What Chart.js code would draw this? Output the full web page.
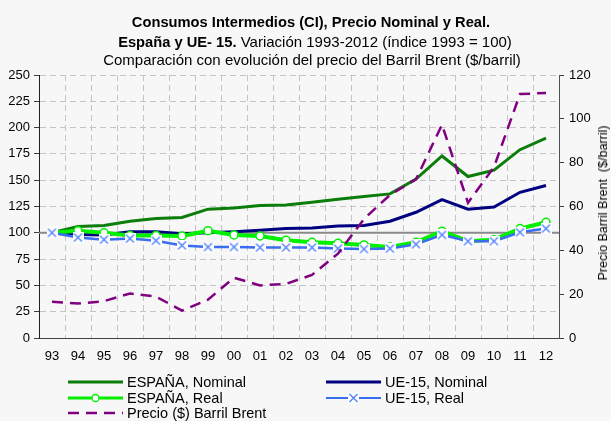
<!DOCTYPE html>
<html>
<head>
<meta charset="utf-8">
<script src="https://cdn.jsdelivr.net/npm/chart.js@4/dist/chart.umd.min.js"></script>
<style>
  html, body { margin: 0; padding: 0; background: #f7f7f7; }
  #wrap { position: relative; width: 611px; height: 421px; font-family: "Liberation Sans", Arial, sans-serif; color: #000; }
  #chart { position: absolute; left: 0; top: 0; }
  .t { position: absolute; white-space: nowrap; transform: translate(-50%, -50%); font-size: 15px; }
  .b { font-weight: bold; font-size: 14.7px; }
  #ytitle { position: absolute; left: 603px; top: 203px; white-space: nowrap; font-size: 12.5px;
            transform: translate(-50%, -50%) rotate(-90deg); }
  .leg { position: absolute; height: 16px; display: flex; align-items: center; font-size: 14.5px; white-space: nowrap; }
  .leg svg { margin-right: 4px; }
</style>
</head>
<body>
<div id="wrap">
  <canvas id="chart" width="611" height="421"></canvas>
  <div class="t b" style="left:311px; top:22px;">Consumos Intermedios (CI), Precio Nominal y Real.</div>
  <div class="t" style="left:315px; top:41px;"><span class="b">España y UE- 15.</span> Variación 1993-2012 (índice 1993 = 100)</div>
  <div class="t" style="left:312px; top:59px;">Comparación con evolución del precio del Barril Brent ($/barril)</div>
  <div id="ytitle">Precio Barril Brent&nbsp; ($/barril)</div>
  <div id="legend"></div>
</div>
<script>
// categories
const years = ['93', '94', '95', '96', '97', '98', '99', '00', '01', '02',
               '03', '04', '05', '06', '07', '08', '09', '10', '11', '12'];

// indices 1993 = 100
const espNominal = [100, 106, 107, 111, 113.5, 114.5, 122.5, 123.5, 126, 126.5,
                    129, 132, 134.5, 137, 151, 173, 153.5, 159.5, 179, 190];
const ueNominal  = [100, 98.5, 98, 101, 101, 99, 100, 101, 102.5, 104,
                    104.5, 106.5, 107, 111, 119.5, 131.5, 122.5, 124.5, 138.5, 145];
const espReal    = [100, 102, 100, 97.5, 97.5, 97, 102, 98, 97, 93,
                    91, 90, 88.5, 86.5, 91, 101.5, 92, 93.5, 104, 110];
const ueReal     = [100, 95.5, 93.5, 94.5, 92.5, 88, 86.5, 86.5, 86, 86,
                    86, 85, 84.5, 85, 89, 98, 92, 92, 100.5, 104];

// Brent, $/barril (right axis)
const brent = [16.5, 15.7, 16.8, 20.3, 18.9, 12.5, 17.5, 27.5, 24, 24.7,
               28.8, 38.5, 54.3, 65.3, 72.4, 97.3, 61.7, 78, 111.3, 111.8];

const leftTicks = [0, 25, 50, 75, 100, 125, 150, 175, 200, 225, 250];
const rightTicks = [0, 20, 40, 60, 80, 100, 120];

// X marker with white box behind it
function crossMarker() {
    const c = document.createElement('canvas');
    c.width = 11; c.height = 11;
    const g = c.getContext('2d');
    g.fillStyle = '#ffffff';
    g.fillRect(0, 0, 11, 11);
    g.strokeStyle = '#4d7dff';
    g.lineWidth = 1.3;
    g.beginPath();
    g.moveTo(1.5, 1.5); g.lineTo(9.5, 9.5);
    g.moveTo(9.5, 1.5); g.lineTo(1.5, 9.5);
    g.stroke();
    return c;
}

// gray base line at index 100
const baseLine = {
    id: 'baseLine',
    beforeDatasetsDraw(chart) {
        const { ctx, chartArea, scales } = chart;
        const y = scales.y.getPixelForValue(100);
        ctx.save();
        ctx.strokeStyle = '#8a8a8a';
        ctx.lineWidth = 2;
        ctx.beginPath();
        ctx.moveTo(chartArea.left, y);
        ctx.lineTo(chartArea.right, y);
        ctx.stroke();
        ctx.restore();
    }
};

const font = { family: '"Liberation Sans", Arial, sans-serif', size: 13 };

new Chart(document.getElementById('chart').getContext('2d'), {
    type: 'line',
    data: {
        labels: years,
        datasets: [
            { label: 'Precio ($) Barril Brent', data: brent, yAxisID: 'y2',
              borderColor: '#800080', borderWidth: 2.5, borderDash: [11, 7], pointRadius: 0 },
            { label: 'UE-15, Real', data: ueReal, borderColor: '#3a6ef0', borderWidth: 2.5,
              pointStyle: crossMarker(), pointRadius: 5 },
            { label: 'ESPAÑA, Real', data: espReal, borderColor: '#00f000', borderWidth: 4,
              pointStyle: 'circle', pointRadius: 4, pointBackgroundColor: '#ffffff',
              pointBorderColor: '#00f000', pointBorderWidth: 1.5 },
            { label: 'UE-15, Nominal', data: ueNominal, borderColor: '#000080', borderWidth: 3, pointRadius: 0 },
            { label: 'ESPAÑA, Nominal', data: espNominal, borderColor: '#0a7d0a', borderWidth: 3, pointRadius: 0 }
        ]
    },
    options: {
        responsive: false,
        animation: false,
        devicePixelRatio: 1,
        layout: { padding: { top: 75, left: 0, right: 0, bottom: 0 } },
        plugins: { legend: { display: false }, tooltip: { enabled: false } },
        scales: {
            x: {
                offset: true,
                grid: { offset: true, color: '#c4c4c4', drawTicks: false },
                border: { color: '#404040', dash: [6, 4] },
                ticks: { color: '#000', font: font, padding: 11, maxRotation: 0, autoSkip: false },
                afterFit(s) { s.height = 83; }
            },
            y: {
                position: 'left',
                min: 0, max: 250,
                afterBuildTicks(s) { s.ticks = leftTicks.map(v => ({ value: v })); },
                grid: { color: '#c4c4c4', tickColor: '#404040', tickLength: 5 },
                border: { color: '#202020', dash: [6, 4] },
                ticks: { color: '#000', font: font, padding: 4 },
                afterFit(s) { s.width = 39; }
            },
            y2: {
                position: 'right',
                min: 0, max: 120,
                afterBuildTicks(s) { s.ticks = rightTicks.map(v => ({ value: v })); },
                grid: { drawOnChartArea: false, color: '#404040', tickLength: 5 },
                border: { color: '#505050' },
                ticks: { color: '#000', font: font, padding: 5 },
                afterFit(s) { s.width = 52; }
            }
        }
    },
    plugins: [baseLine]
});

// legend, two columns like the original
const legendItems = [
    { text: 'ESPAÑA, Nominal', x: 68, y: 382, color: '#0a7d0a', w: 3, marker: null },
    { text: 'UE-15, Nominal', x: 326, y: 382, color: '#000080', w: 3, marker: null },
    { text: 'ESPAÑA, Real', x: 68, y: 398, color: '#00f000', w: 3, marker: 'circle' },
    { text: 'UE-15, Real', x: 326, y: 398, color: '#3a6ef0', w: 2, marker: 'cross' },
    { text: 'Precio ($) Barril Brent', x: 68, y: 413, color: '#800080', w: 2.5, marker: 'dash' }
];
const legend = document.getElementById('legend');
legendItems.forEach((it) => {
    let svg = '<svg width="55" height="16">';
    if (it.marker === 'dash') {
        svg += `<line x1="0" y1="8" x2="55" y2="8" stroke="${it.color}" stroke-width="${it.w}" stroke-dasharray="11 7"/>`;
    } else {
        svg += `<line x1="0" y1="8" x2="55" y2="8" stroke="${it.color}" stroke-width="${it.w}"/>`;
    }
    if (it.marker === 'circle') {
        svg += `<circle cx="27.5" cy="8" r="3.5" fill="#fff" stroke="${it.color}" stroke-width="1.3"/>`;
    }
    if (it.marker === 'cross') {
        svg += '<rect x="22" y="2.5" width="11" height="11" fill="#fff"/>';
        svg += '<path d="M23.5 4 L31.5 12 M31.5 4 L23.5 12" stroke="#4d7dff" stroke-width="1.3"/>';
    }
    svg += '</svg>';
    const div = document.createElement('div');
    div.className = 'leg';
    div.style.left = it.x + 'px';
    div.style.top = (it.y - 8) + 'px';
    div.innerHTML = svg + '<span>' + it.text + '</span>';
    legend.appendChild(div);
});
</script>
</body>
</html>
